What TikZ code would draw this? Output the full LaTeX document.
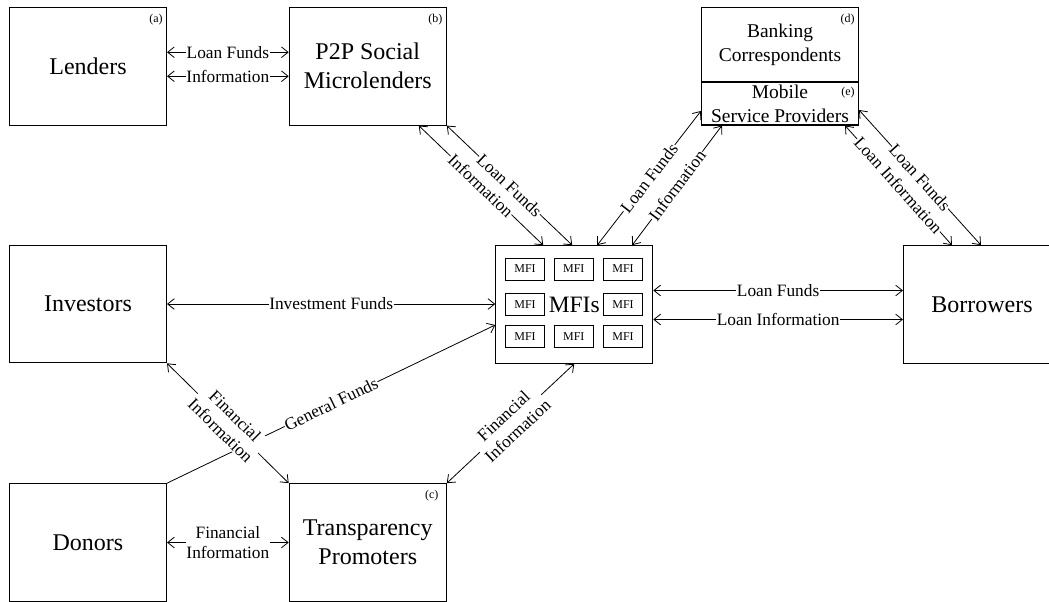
\documentclass[tikz,border=0pt]{standalone}
\usepackage{fontspec}
\setmainfont{Liberation Serif}
\usepackage{tikz}
\usetikzlibrary{arrows.meta, positioning, calc}

\tikzset{
  entity/.style={draw, line width=0.8pt, minimum width=117.75pt, minimum height=88.2pt,
    align=center, inner sep=0pt, font=\fontsize{18}{21.75}\selectfont},
  smallent/.style={font=\fontsize{14.6}{18}\selectfont},
  tagnote/.style={anchor=north east, inner sep=0pt, font=\fontsize{9}{10}\selectfont},
  lbl/.style={fill=white, inner sep=0.5pt, align=center, font=\fontsize{13}{15.5}\selectfont},
  mfibox/.style={draw, line width=0.6pt, minimum width=29.25pt, minimum height=16.5pt,
    inner sep=0pt, font=\fontsize{9}{10}\selectfont},
}

\begin{document}
\begin{tikzpicture}[x=0.75pt, y=-0.75pt, >={Straight Barb[length=5pt,width=8pt]}, line width=0.6pt]
    \useasboundingbox (0,0) rectangle (1049,602);

    % Entidades
    \node[entity] (lenders) at (88,66.25) {Lenders};
    \node[entity] (p2p) at (367.75,66.25) {P2P Social\\Microlenders};
    \node[entity, smallent, minimum height=55.9pt] (bank) at (780,44.75) {Banking\\Correspondents};
    \node[entity, smallent, minimum height=32.25pt] (mobile) at (780,103.5) {Mobile\\Service Providers};
    \node[entity] (investors) at (88,304) {Investors};
    \node[entity, font=\fontsize{17.6}{20}\selectfont] (mfi) at (574.25,304.5) {MFIs};
    \node[entity] (borrowers) at (982,304.5) {Borrowers};
    \node[entity] (donors) at (88,542.5) {Donors};
    \node[entity] (transp) at (367.75,542.5) {Transparency\\Promoters};

    % Marcas (a)-(e)
    \node[tagnote] (taga) at ($(lenders.north east)+(-4,7)$) {(a)};
    \node[tagnote] (tagb) at ($(p2p.north east)+(-4,7)$) {(b)};
    \node[tagnote] (tagc) at ($(transp.north east)+(-8,7)$) {(c)};
    \node[tagnote] (tagd) at ($(bank.north east)+(-4,7)$) {(d)};
    \node[tagnote] (tage) at ($(mobile.north east)+(-4,5)$) {(e)};

    % MFI individuales
    \foreach \n/\dx/\dy in {1/-49.25/-35.5, 2/-0.5/-35.5, 3/48.75/-35.5, 4/-49.25/0,
                            5/48.75/0, 6/-49.25/32.2, 7/-0.5/32.2, 8/48.75/32.2}
        \node[mfibox] (mfi\n) at ($(mfi)+(\dx,\dy)$) {MFI};

    % Lenders - P2P
    \draw[<->] ($(lenders.east)+(0,-14)$) -- ($(p2p.west)+(0,-14)$) node[midway, lbl] {Loan Funds};
    \draw[<->] ($(lenders.east)+(0,10)$) -- ($(p2p.west)+(0,10)$) node[midway, lbl] {Information};

    % P2P - MFIs
    \draw[<->] (p2p.south east) -- ($(mfi.north west)+(77,0)$) node[midway, lbl, sloped] {Loan Funds};
    \draw[<->] ($(p2p.south east)+(-28,0)$) -- ($(mfi.north west)+(48,0)$) node[midway, lbl, sloped] {Information};

    % MFIs - Mobile
    \draw[<->] ($(mfi.north west)+(102,0)$) -- ($(mobile.west)+(0,7.5)$) node[midway, lbl, sloped] {Loan Funds};
    \draw[<->] ($(mfi.north west)+(137,0)$) -- ($(mobile.south west)+(21,0)$) node[midway, lbl, sloped] {Information};

    % Mobile - Borrowers
    \draw[<->] ($(mobile.east)+(0,6.5)$) -- ($(borrowers.north west)+(78,0)$) node[midway, lbl, sloped] {Loan Funds};
    \draw[<->] ($(mobile.south east)+(-14,0)$) -- ($(borrowers.north west)+(49,0)$) node[midway, lbl, sloped] {Loan Information};

    % Investors - MFIs
    \draw[<->] (investors.east) -- (investors.east -| mfi.west) node[midway, lbl] {Investment Funds};

    % MFIs - Borrowers
    \coordinate (lf) at ($(mfi.east)+(0,-14)$);
    \coordinate (li) at ($(mfi.east)+(0,15)$);
    \draw[<->] (lf) -- (lf -| borrowers.west) node[midway, lbl] {Loan Funds};
    \draw[<->] (li) -- (li -| borrowers.west) node[midway, lbl] {Loan Information};

    % Donors - MFIs
    \draw[->] (donors.north east) -- ($(mfi.west)+(0,20.5)$) node[midway, lbl, sloped] {General Funds};

    % Informacion financiera
    \draw[<->] (investors.south east) -- (transp.north west) node[midway, lbl, sloped] {Financial\\Information};
    \draw[<->] (transp.north east) -- (mfi.south) node[midway, lbl, sloped] {Financial\\Information};
    \draw[<->] (donors.east) -- (transp.west) node[midway, lbl] {Financial\\Information};
\end{tikzpicture}
\end{document}
